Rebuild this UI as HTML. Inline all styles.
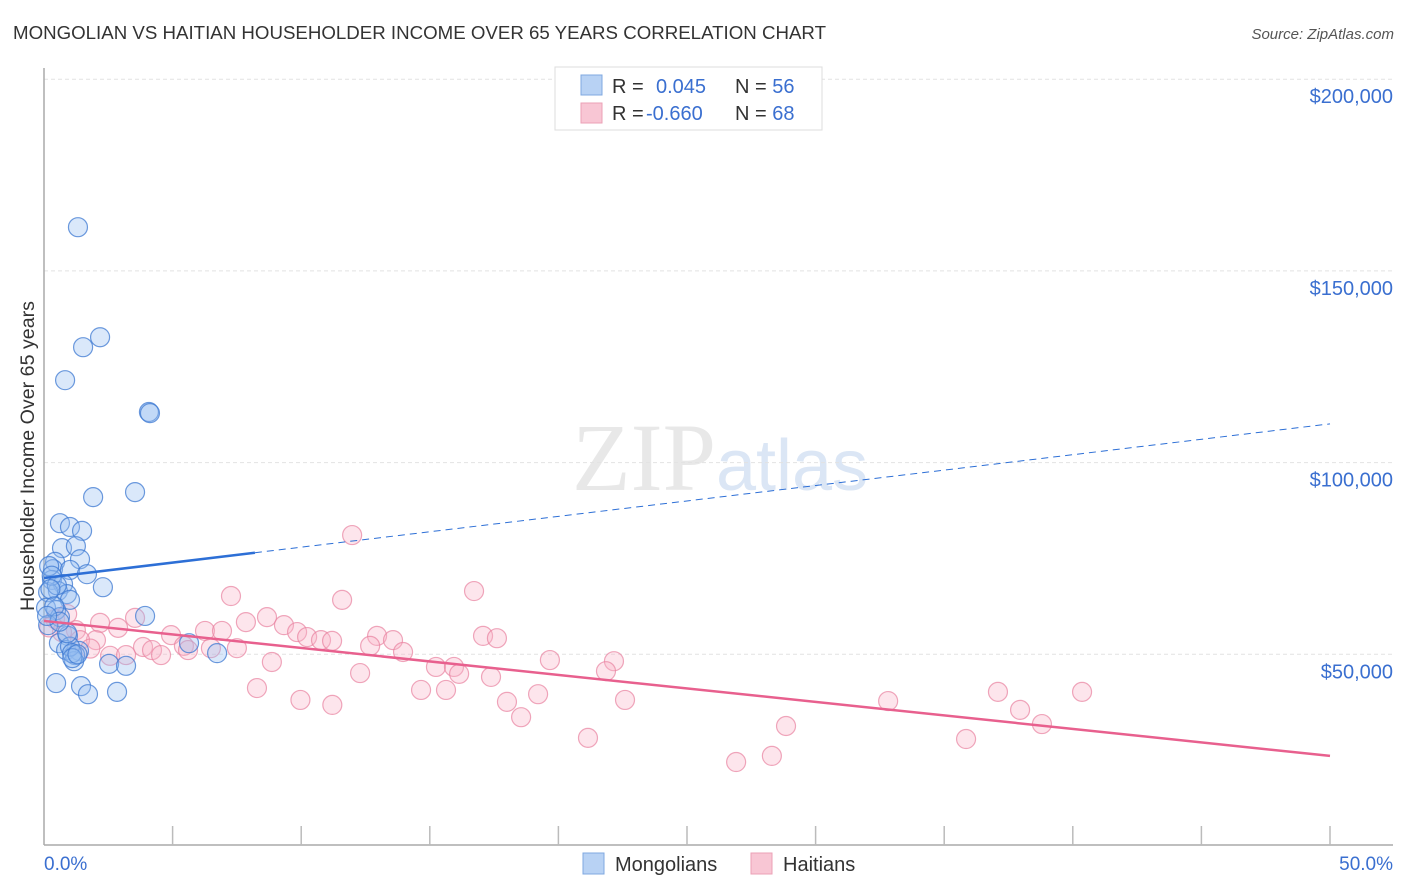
<!DOCTYPE html>
<html><head><meta charset="utf-8"><style>
body{margin:0;background:#fff;font-family:"Liberation Sans",sans-serif;}
svg{display:block}
</style></head><body>
<svg id="c" width="1406" height="892" xmlns="http://www.w3.org/2000/svg">
<text x="13" y="39" font-size="18" fill="#333" textLength="813" lengthAdjust="spacingAndGlyphs">MONGOLIAN VS HAITIAN HOUSEHOLDER INCOME OVER 65 YEARS CORRELATION CHART</text>
<text x="1394" y="39" font-size="15" fill="#555" font-style="italic" text-anchor="end">Source: ZipAtlas.com</text>
<text x="720" y="490" font-size="96" fill="#e8e8e8" text-anchor="middle" font-family="Liberation Serif,serif">ZIP<tspan fill="#dbe6f5" font-family="Liberation Sans,sans-serif" font-size="72">atlas</tspan></text>
<g id="grid"></g>
<g id="axes"></g>
<g id="marks"></g>
<text transform="translate(34,456) rotate(-90)" font-size="19" fill="#333" text-anchor="middle" textLength="310" lengthAdjust="spacingAndGlyphs">Householder Income Over 65 years</text>
<text x="44" y="870" font-size="19" fill="#3a6fd0">0.0%</text>
<text x="1393" y="870" font-size="19" fill="#3a6fd0" text-anchor="end">50.0%</text>
<g>
<rect x="555" y="67" width="267" height="63" fill="#fff" stroke="#ddd"/>
<rect x="581" y="75" width="21" height="20" fill="#b8d2f4" stroke="#7fa8e0"/>
<rect x="581" y="103" width="21" height="20" fill="#f8c6d4" stroke="#eba0b6"/>
<text x="612" y="93" font-size="20" fill="#333">R = <tspan x="656" fill="#3a6fd0">0.045</tspan><tspan x="735" fill="#333">N = </tspan><tspan fill="#3a6fd0">56</tspan></text>
<text x="612" y="120" font-size="20" fill="#333">R = <tspan x="646" fill="#3a6fd0">-0.660</tspan><tspan x="735" fill="#333">N = </tspan><tspan fill="#3a6fd0">68</tspan></text>
</g>
<g>
<rect x="583" y="853" width="21" height="21" fill="#b8d2f4" stroke="#7fa8e0"/>
<text x="615" y="871" font-size="20" fill="#333">Mongolians</text>
<rect x="751" y="853" width="21" height="21" fill="#f8c6d4" stroke="#eba0b6"/>
<text x="783" y="871" font-size="20" fill="#333">Haitians</text>
</g>
</svg>
<script>
const yTicks=[50000,100000,150000,200000];
const yTickLabels=["$50,000","$100,000","$150,000","$200,000"];
const mongX=[1.32,2.18,1.52,0.82,4.08,4.12,1.91,3.54,0.62,1.01,1.48,0.70,1.24,1.40,0.43,0.35,1.01,1.67,0.31,0.74,2.29,0.54,0.89,0.16,1.01,0.08,0.47,3.93,0.62,0.16,0.93,0.58,5.64,0.86,1.36,1.21,6.73,1.17,2.53,3.19,0.47,1.44,1.71,2.84,1.01,1.09,0.2,0.3,0.5,0.25,0.9,1.1,0.4,0.6,1.3,0.12];
const mongY=[161.4,132.7,130.1,121.5,113.2,112.9,91.0,92.3,84.2,83.2,82.2,77.7,78.2,74.8,74.1,72.2,72.0,70.9,69.4,68.3,67.5,66.5,65.7,66.2,64.2,62.1,61.5,60.0,59.7,57.6,54.8,52.9,52.9,51.1,50.9,49.8,50.3,48.2,47.5,47.0,42.5,41.7,39.6,40.2,52.0,50.3,73.0,70.5,68.0,67.0,55.5,49.0,62.5,58.5,50.0,60.0];
const haitX=[11.98,16.72,7.27,11.59,8.67,3.54,7.85,2.18,0.43,2.88,9.33,1.24,6.26,6.92,9.84,4.94,12.95,10.23,17.07,17.61,2.02,10.77,11.20,13.57,5.44,12.68,3.85,4.20,6.49,7.50,13.96,4.55,2.57,3.19,5.60,19.67,22.16,8.86,15.24,15.94,16.14,12.29,17.38,21.85,8.28,14.66,15.63,19.21,37.09,40.36,9.97,11.21,18.00,22.59,32.82,37.95,18.55,38.80,28.85,21.15,35.85,28.30,26.91,1.40,0.70,0.2,0.9,1.8];
const haitY=[81.1,66.5,65.2,64.2,59.7,59.5,58.4,58.2,59.2,56.9,57.6,56.3,56.1,56.1,55.8,55.0,54.8,54.5,54.8,54.2,53.7,53.7,53.5,53.7,52.2,52.2,51.9,51.1,51.6,51.6,50.6,49.8,49.6,49.8,51.1,48.5,48.2,48.0,46.7,46.7,44.9,45.1,44.1,45.6,41.2,40.7,40.7,39.6,40.2,40.2,38.1,36.8,37.6,38.1,37.8,35.5,33.6,31.8,31.3,28.2,27.9,23.5,21.9,53.7,55.8,57.0,60.5,51.5];
const mongLine=[69.9,110.1];
const haitLine=[58.7,23.5];
const NS="http://www.w3.org/2000/svg";
const X0=44,X1=1330,Y0=846,PXK=191.7/50000;
const sx=v=>X0+(v/50)*(X1-X0);
const sy=v=>Y0-v*PXK;
const syk=v=>sy(v*1000);
function mk(tag,attrs,parent){const e=document.createElementNS(NS,tag);for(const k in attrs)e.setAttribute(k,attrs[k]);parent.appendChild(e);return e;}
const grid=document.getElementById('grid'),axes=document.getElementById('axes'),marks=document.getElementById('marks');
yTicks.forEach((t,i)=>{
 const l=mk('line',{x1:44,x2:1393,y1:sy(t),y2:sy(t),stroke:'#e2e2e2','stroke-dasharray':'4,3'},grid);
 
 
 const tx=mk('text',{x:1393,y:sy(t)+24,'font-size':20,fill:'#3a6fd0','text-anchor':'end'},grid);
 tx.textContent=yTickLabels[i];
 
 
});
const ya=mk('line',{x1:44,x2:44,y1:68,y2:845,stroke:'#aaa','stroke-width':1.5},axes);


const xa=mk('line',{x1:44,x2:1393,y1:845,y2:845,stroke:'#aaa','stroke-width':1.5},axes);


for(let i=1;i<=10;i++){const t=mk('line',{x1:sx(i*5),x2:sx(i*5),y1:826,y2:845,stroke:'#bbb','stroke-width':1.5},axes);
 
 }
haitX.forEach((x,i)=>{const c=mk('circle',{cx:sx(x),cy:syk(haitY[i]),r:9.5,fill:'rgba(248,180,200,0.35)',stroke:'rgba(232,130,160,0.7)','stroke-width':1.2},marks);
 
 });
mongX.forEach((x,i)=>{const c=mk('circle',{cx:sx(x),cy:syk(mongY[i]),r:9.5,fill:'rgba(150,190,240,0.35)',stroke:'rgba(60,120,210,0.75)','stroke-width':1.2},marks);
 
 });
const mAt=x=>mongLine[0]+(mongLine[1]-mongLine[0])*x/50;
const l1=mk('line',{x1:sx(0),y1:syk(mAt(0)),x2:sx(8.2),y2:syk(mAt(8.2)),stroke:'#2d6fd6','stroke-width':2.5},marks);


const l2=mk('line',{x1:sx(8.2),y1:syk(mAt(8.2)),x2:sx(50),y2:syk(mAt(50)),stroke:'#2d6fd6','stroke-width':1,'stroke-dasharray':'7,5'},marks);


const l3=mk('line',{x1:sx(0),y1:syk(haitLine[0]),x2:sx(50),y2:syk(haitLine[1]),stroke:'#e8608e','stroke-width':2.5},marks);


</script>
</body></html>
